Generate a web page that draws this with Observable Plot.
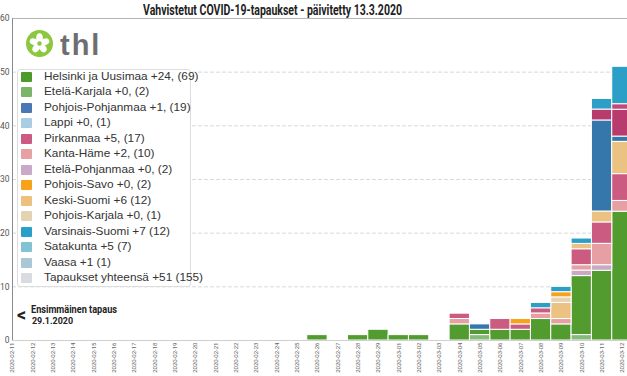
<!DOCTYPE html>
<html><head><meta charset="utf-8">
<script src="https://cdn.jsdelivr.net/npm/d3@7"></script>
<script src="https://cdn.jsdelivr.net/npm/@observablehq/plot@0.6"></script>
<style>
body{margin:0;background:#fff;width:627px;height:376px;overflow:hidden;position:relative;font-family:"Liberation Sans",Arial,sans-serif;}
#title{height:17px;position:relative;}
#title span{position:absolute;left:143px;top:2px;transform-origin:0 0;white-space:nowrap;font-weight:bold;font-size:14.5px;font-family:Roboto,"Noto Sans",sans-serif;color:#222;}
#chart svg{display:block;overflow:visible;}
#legend{position:absolute;left:17px;top:69px;width:174px;height:218px;border:1px solid #ddd;border-radius:3px;background:#fff;box-sizing:border-box;}
.item{position:absolute;left:3px;height:14px;font-size:11.8px;color:#333;white-space:nowrap;}
.sw{position:absolute;left:0;top:1px;width:11px;height:10px;border-radius:1px;}
.lab{position:absolute;left:23px;top:-2px;}
#logo{position:absolute;left:25px;top:29px;}
#note{position:absolute;left:17px;top:303px;font-family:Roboto,"Noto Sans",sans-serif;font-weight:bold;color:#222;}
#note .arr{position:absolute;left:0;top:1px;font-size:18px;}
#note .t1{position:absolute;left:14px;top:0;font-size:10.5px;white-space:nowrap;transform-origin:0 0;}
#note .t2{position:absolute;left:15px;top:12px;font-size:9.5px;white-space:nowrap;transform-origin:0 0;}
</style>
</head><body>
<div id="title"><span id="ttl">Vahvistetut COVID-19-tapaukset - päivitetty 13.3.2020</span></div>
<div id="chart"></div>
<svg id="logo" width="100" height="32" viewBox="0 0 100 32">
  <circle cx="14.5" cy="14.5" r="13.5" fill="#8dc63f"/>
  <g fill="#fff" transform="translate(14.5,14.5)">
    <ellipse cx="0" cy="-5.6" rx="3.3" ry="4.6"/>
    <ellipse cx="0" cy="-5.6" rx="3.3" ry="4.6" transform="rotate(72)"/>
    <ellipse cx="0" cy="-5.6" rx="3.3" ry="4.6" transform="rotate(144)"/>
    <ellipse cx="0" cy="-5.6" rx="3.3" ry="4.6" transform="rotate(216)"/>
    <ellipse cx="0" cy="-5.6" rx="3.3" ry="4.6" transform="rotate(288)"/>
  </g>
  <circle cx="14.5" cy="14.5" r="2.2" fill="#8dc63f"/>
  <text x="35" y="26" font-family="Liberation Sans, Arial, sans-serif" font-weight="bold" font-size="29" letter-spacing="2" fill="#6d6e71">thl</text>
</svg>
<div id="legend"></div>
<div id="note"><span class="arr">&lt;</span><span class="t1" id="n1">Ensimmäinen tapaus</span><span class="t2" id="n2">29.1.2020</span></div>
<script>
// x-axis tick labels (one band per day)
const axisDates = ["2020-02-11","2020-02-12","2020-02-13","2020-02-14","2020-02-15","2020-02-16","2020-02-17","2020-02-18","2020-02-19","2020-02-20","2020-02-21","2020-02-22","2020-02-23","2020-02-24","2020-02-25","2020-02-26","2020-02-27","2020-02-28","2020-02-29","2020-03-01","2020-03-02","2020-03-03","2020-03-04","2020-03-05","2020-03-06","2020-03-07","2020-03-08","2020-03-09","2020-03-10","2020-03-11","2020-03-12"];
// dates for which the daily series below are given
const caseDates = ["2020-02-26","2020-02-27","2020-02-28","2020-02-29","2020-03-01","2020-03-02","2020-03-03","2020-03-04","2020-03-05","2020-03-06","2020-03-07","2020-03-08","2020-03-09","2020-03-10","2020-03-11","2020-03-12"];

// daily new cases per region (aligned with caseDates)
const helsinkiUusimaa   = [1,0,1,2,1,1,0,3,1,2,2,4,3,11,13,24];
const etelaKarjala      = [0,0,0,0,0,0,0,0,1,0,0,0,0,1,0,0];
const pohjoisPohjanmaa  = [0,0,0,0,0,0,0,0,1,0,0,0,0,0,17,1];
const lappi             = [0,0,0,0,0,0,0,0,0,0,0,0,0,0,0,0];
const pirkanmaa         = [0,0,0,0,0,0,0,1,0,2,1,1,0,3,4,5];
const kantaHame         = [0,0,0,0,0,0,0,1,0,0,0,1,1,1,4,2];
const etelaPohjanmaa    = [0,0,0,0,0,0,0,0,0,0,0,0,0,1,1,0];
const pohjoisSavo       = [0,0,0,0,0,0,0,0,0,0,1,0,1,0,0,0];
const keskiSuomi        = [0,0,0,0,0,0,0,0,0,0,0,0,3,1,2,6];
const pohjoisKarjala    = [0,0,0,0,0,0,0,0,0,0,0,0,1,0,0,0];
const varsinaisSuomi    = [0,0,0,0,0,0,0,0,0,0,0,1,1,1,2,7];
const satakunta         = [0,0,0,0,0,0,0,0,0,0,0,0,0,0,2,5];
const vaasa             = [0,0,0,0,0,0,0,0,0,0,0,0,0,0,0,1];

const regions = ["Helsinki ja Uusimaa","Etelä-Karjala","Pohjois-Pohjanmaa","Lappi","Pirkanmaa","Kanta-Häme","Etelä-Pohjanmaa","Pohjois-Savo","Keski-Suomi","Pohjois-Karjala","Varsinais-Suomi","Satakunta","Vaasa","Tapaukset yhteensä"];
const legendLabels = ["Helsinki ja Uusimaa +24, (69)","Etelä-Karjala +0, (2)","Pohjois-Pohjanmaa +1, (19)","Lappi +0, (1)","Pirkanmaa +5, (17)","Kanta-Häme +2, (10)","Etelä-Pohjanmaa +0, (2)","Pohjois-Savo +0, (2)","Keski-Suomi +6 (12)","Pohjois-Karjala +0, (1)","Varsinais-Suomi +7 (12)","Satakunta +5 (7)","Vaasa +1 (1)","Tapaukset yhteensä +51 (155)"];
const legendColors = ["#4b9a2a","#7bb56c","#4a78b6","#a9cde2","#cc5a82","#e6a2a3","#c9a9c7","#f8a21c","#edc07e","#e4d3b2","#28a0c8","#82c2d5","#a9c7d6","#d8dce0"];
const barColors = ["#529b2f","#86ba78","#3677ab","#a9cde2","#cb5b80","#e6a0a3","#c9a9c4","#f6a21e","#ebc282","#e6d3b3","#2b9fc6","#b83b6e","#c04a7a","#d8dce0"];
// bottom-to-top stacking order
const stackOrder = ["Etelä-Karjala","Helsinki ja Uusimaa","Etelä-Pohjanmaa","Kanta-Häme","Pirkanmaa","Keski-Suomi","Pohjois-Karjala","Pohjois-Savo","Pohjois-Pohjanmaa","Lappi","Satakunta","Vaasa","Varsinais-Suomi"];
const yTicks = [0,10,20,30,40,50,60];
const gridTicks = [10,20,30,40,50];

const series = {
  "Helsinki ja Uusimaa": helsinkiUusimaa, "Etelä-Karjala": etelaKarjala, "Pohjois-Pohjanmaa": pohjoisPohjanmaa,
  "Lappi": lappi, "Pirkanmaa": pirkanmaa, "Kanta-Häme": kantaHame, "Etelä-Pohjanmaa": etelaPohjanmaa,
  "Pohjois-Savo": pohjoisSavo, "Keski-Suomi": keskiSuomi, "Pohjois-Karjala": pohjoisKarjala,
  "Varsinais-Suomi": varsinaisSuomi, "Satakunta": satakunta, "Vaasa": vaasa
};
const rows = [];
for (const [region, vals] of Object.entries(series)) {
  vals.forEach((n, j) => { if (n > 0) rows.push({region, i: axisDates.indexOf(caseDates[j]), n}); });
}

const chart = Plot.plot({
  width: 627, height: 359,
  marginTop: 1, marginBottom: 36, marginLeft: 12, marginRight: 0,
  x: {type: "linear", domain: [0, 30.25]},
  y: {domain: [0, 60]},
  color: {domain: regions, range: barColors},
  style: {fontFamily: "Roboto,'Noto Sans',sans-serif", background: "white"},
  marks: [
    Plot.ruleY(gridTicks, {stroke: "#d9d9d9", strokeDasharray: "4,2"}),
    Plot.ruleY([60], {stroke: "#b5b5b5"}),
    Plot.rectY(rows, Plot.stackY({
      x1: d => d.i - 0.5, x2: d => d.i + 0.5, y: "n", z: "region", fill: "region",
      order: stackOrder, stroke: "white", strokeWidth: 1
    })),
    Plot.ruleY([0], {stroke: "#cfcfcf"}),
    Plot.ruleX([0], {stroke: "#8a8a8a"}),
    Plot.axisY(yTicks, {tickSize: 0, tickPadding: 3, fontSize: 8.5, fill: "#555", label: null}),
    Plot.axisX(d3.range(axisDates.length), {tickSize: 0, tickPadding: 2, tickRotate: -90, fontSize: 6, fill: "#666",
      tickFormat: i => axisDates[i], label: null})
  ]
});
document.getElementById("chart").appendChild(chart);

const legend = d3.select("#legend");
legendLabels.forEach((t, k) => {
  const it = legend.append("div").attr("class", "item").style("top", (1 + k * 15.46) + "px");
  it.append("div").attr("class", "sw").style("background", legendColors[k]);
  it.append("div").attr("class", "lab").text(t);
});

function fitWidth(id, w) {
  const el = document.getElementById(id);
  const cur = el.getBoundingClientRect().width;
  if (cur > 0) el.style.transform = `scaleX(${w / cur})`;
}
fitWidth("ttl", 259);
fitWidth("n1", 86);
fitWidth("n2", 41);
</script>
</body></html>
